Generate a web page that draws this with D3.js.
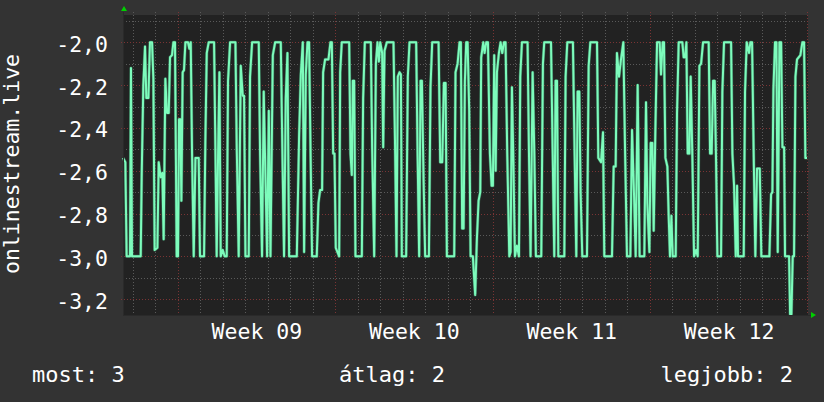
<!DOCTYPE html>
<html><head><meta charset="utf-8">
<script src="https://cdn.jsdelivr.net/npm/d3@7"></script>
<style>html,body{margin:0;padding:0;background:#333;} svg{display:block}</style>
</head><body><svg id="c" width="824" height="402"></svg>
<script>
// ---- data (hours since start, value) ----
const hours = [0,2.5,3.9,7.5,8.5,9.6,18.9,20,21.7,23.5,24.9,27.1,28.8,31,32.4,33.8,36.7,38.1,40.2,42,43.4,45.2,47,48.8,50.2,52.3,53.8,55.5,57.3,58.7,59.8,61.2,62.3,63.7,65.1,66.6,69.4,70.8,72.3,73.7,75.5,77.3,80.8,82.2,86.5,87.9,89.4,91.5,97.2,98.6,100,101.5,102.9,104.3,106.4,108.6,110.7,112.1,114.3,120,121.4,123.5,125.7,127.8,129.2,130.7,134.2,135.6,137.8,144.9,146.3,148.4,150.2,152,153.8,155.6,157.4,159.9,162.4,168.4,170.2,171.9,173.7,175.5,177.3,185.5,188,189.8,191.9,193.3,195.1,196.9,198.6,200.1,201.8,206.8,208.6,210.4,212.5,213.6,215.7,219.3,221.4,222.9,224.3,225.7,227.1,230.7,231.8,233.5,241.4,242.8,244.2,245.3,246.7,248.1,254.9,256.3,258.1,264.5,265.9,268.1,269.9,271.6,273.1,274.5,276.6,277.7,279.1,281.6,288.7,290.5,291.9,293.3,295.1,296.6,297.6,302.2,304,305.8,312.9,314.4,316.1,317.6,319,320.8,322.5,326.5,328.2,330,336.8,338.6,340.7,342.5,344.3,345.7,353.5,354.9,357.1,359.2,360.6,362,363.5,364.9,366.3,367.8,369.5,371,373.4,375.9,377.7,379.5,381.3,382.3,384.5,385.9,387.7,389.5,391.6,393.4,394.8,396.2,397.7,399.1,401.2,403,404.8,406.6,408.3,410.1,412.3,413.7,415.1,416.5,418.3,420.4,422.6,424,425.8,431.8,433.3,435,437.2,439,440.7,446.4,448.2,449.6,456.8,458.5,460.3,461.7,463.2,464.6,471,472.4,474.2,480.2,482,483.8,485.2,487,488.4,490.2,495.2,497,498.8,505.9,507.3,510.2,512.3,513.7,521.9,523.7,525.8,527.2,529.4,531.5,534,535.8,537.9,541.5,543.3,545.4,547.2,549.3,551.4,556.4,558.2,559.6,561.8,563.2,565,566.4,568.2,570,572.8,574.2,576,577.4,578.9,581,582.4,583.8,585.3,586.7,589.9,591.3,593.1,597,598.4,599.9,601.3,602.7,604.5,605.9,607.7,609.5,611.6,613.4,615.2,617,619.1,625.1,626.6,628.3,629.8,631.5,633,634.4,638.3,639.7,641.5,649,650.4,652.2,654,655.4,656.4,662.5,663.9,665.7,668.2,669.6,671.4,673.2,674.9,676.7,679.6,681.3,689.9,691.7,693.1,694.2,695.9,697.4,698.8,700.6,702.4,703.8,705.6,706.6,710.9,712,713.4,714.8,716.2,717.7,719.4,723,725.1,726.9,728.3,730.1];
const values = [-2.54,-2.56,-3,-3,-2.12,-3,-3,-2.61,-2.2,-2.02,-2.26,-2.26,-2,-2,-2.17,-2.97,-2.96,-2.56,-2.63,-2.61,-2.92,-2.17,-2.33,-2.33,-2.07,-2.06,-2,-2,-3,-3,-2.36,-2.36,-2.74,-2.14,-2.13,-2,-2,-2.03,-2,-2.52,-3,-2.54,-2.54,-3,-3,-2.46,-2.05,-2,-2,-2.49,-3,-2.52,-2.14,-3,-2.97,-3,-3,-2.18,-2,-2,-2.49,-3,-2.11,-2.25,-2.25,-3,-3,-2.16,-2,-2,-2.52,-3,-2.23,-2.62,-3,-2.32,-3,-2.06,-2,-2,-2.54,-3,-2.26,-2.05,-3,-3,-2.43,-2.15,-2,-2.98,-2.15,-2,-2,-2.49,-3,-3,-2.75,-2.69,-2.69,-2.14,-2.08,-2.08,-2,-2,-2.52,-2.52,-2.96,-3,-2.14,-2,-2,-2.52,-2.62,-2.18,-2.18,-3,-3,-2.26,-2,-2,-2.49,-3,-2.1,-2,-2.09,-2,-2.05,-2.49,-2.04,-2,-2,-2.52,-3,-2.16,-2.14,-2.15,-3,-3,-2.16,-2,-2,-2.52,-3,-2.18,-2.18,-2.64,-3,-3,-2.21,-2,-2,-2.56,-2.56,-2.19,-2.19,-3,-3,-2.14,-2.1,-2,-2,-2.87,-2.87,-2.18,-2,-2,-2.32,-3,-3,-3.18,-2.92,-2.74,-2.7,-2.07,-2,-2.05,-2,-2,-2.52,-2.67,-2.67,-2.06,-2.6,-2.14,-2.05,-2,-2.05,-2,-2,-2.52,-3,-2.98,-2.21,-2.52,-3,-2.95,-3,-2.16,-2,-2,-2.52,-3,-2.14,-2.52,-3,-3,-2.1,-2,-2,-2.49,-3,-2.18,-2.18,-3,-3,-2.16,-2,-2,-2.52,-3,-2.23,-2.23,-2.7,-3,-3,-2.11,-2,-2,-2.54,-2.56,-2.42,-3,-3,-2.58,-2.58,-2.05,-2.16,-2.08,-2,-2.49,-3,-3,-2.41,-2.71,-3,-2.2,-3,-3,-2.28,-2.75,-2.98,-2.47,-2.47,-2.88,-2.41,-2,-2,-2.15,-2,-2,-2.54,-2.58,-2.81,-3,-2.81,-3,-3,-2.33,-2,-2,-2.07,-2.07,-2,-2.52,-2.52,-2.16,-2.54,-3,-2.97,-3,-2.11,-2.1,-2,-2,-2.52,-2.52,-2.18,-2.18,-2.56,-3,-3,-2.23,-2,-2,-2.52,-2.67,-3,-2.67,-3,-3,-2.23,-2,-2.05,-2,-2,-2.54,-3,-2.59,-2.59,-3,-3,-2.71,-2.7,-2.22,-2,-2,-2.98,-2,-2,-2.49,-2.49,-3,-3,-3.27,-3.27,-3,-3,-2.16,-2.08,-2.06,-2,-2,-2.54,-2.54];
const yTickValues = [-3.2, -3.0, -2.8, -2.6, -2.4, -2.2, -2.0];
const yLabel = "onlinestream.live";
const weekLabelFormat = "Week %V";
const legendItems = ["most: 3", "átlag: 2", "legjobb: 2"];

// ---- layout ----
const P = {l: 123, r: 808, t: 15, b: 315};
const FONT = "'DejaVu Sans Mono', monospace";
const start = new Date(Date.UTC(2024, 1, 23, 13, 36));
const end = new Date(+start + 731.1 * 3600e3);

const x = d3.scaleUtc().domain([start, end]).range([P.l, P.r]);
const y = d3.scaleLinear().domain([-3.274, -1.8725]).range([P.b, P.t]);
const loc = d3.formatLocale({decimal: ",", thousands: ".", grouping: [3], currency: ["", ""], minus: "-"});
const fmt = loc.format(".1f");

const data = hours.map((h, i) => ({t: new Date(+start + h * 3600e3), v: values[i]}));

const svg = d3.select("#c");
svg.append("rect").attr("width", 824).attr("height", 402).attr("fill", "#333333");
svg.append("rect").attr("x", P.l).attr("y", P.t).attr("width", P.r - P.l).attr("height", P.b - P.t).attr("fill", "#222222");

// grid
const grid = svg.append("g");
const days = d3.utcDay.range(d3.utcDay.ceil(start), end);
const isMonday = d => d.getUTCDay() === 1;
const hVals = d3.range(-32, -18).map(k => k / 10);
grid.selectAll(".hm").data(hVals.filter(v => Math.round(v * 10) % 2 !== 0)).join("line")
  .attr("x1", P.l).attr("x2", P.r + 2).attr("y1", d => Math.round(y(d)) + 0.5).attr("y2", d => Math.round(y(d)) + 0.5)
  .attr("stroke", "#5a5a5a").attr("stroke-dasharray", "1,2");
grid.selectAll(".vm").data(days.filter(d => !isMonday(d))).join("line")
  .attr("x1", d => Math.round(x(d)) + 0.5).attr("x2", d => Math.round(x(d)) + 0.5).attr("y1", P.t - 3).attr("y2", P.b + 2)
  .attr("stroke", "#5a5a5a").attr("stroke-dasharray", "1,2");
grid.selectAll(".hM").data(yTickValues).join("line")
  .attr("x1", P.l - 2).attr("x2", P.r + 2).attr("y1", d => Math.round(y(d)) + 0.5).attr("y2", d => Math.round(y(d)) + 0.5)
  .attr("stroke", "#7a3434").attr("stroke-dasharray", "1,2");
grid.selectAll(".vM").data(days.filter(isMonday)).join("line")
  .attr("x1", d => Math.round(x(d)) + 0.5).attr("x2", d => Math.round(x(d)) + 0.5).attr("y1", P.t - 3).attr("y2", P.b + 3)
  .attr("stroke", "#7a3434").attr("stroke-dasharray", "1,2");

// series (soft halo + core)
const lineGen = d3.line().x(d => x(d.t)).y(d => y(d.v));
svg.append("path").datum(data).attr("d", lineGen)
  .attr("fill", "none").attr("stroke", "#3f8a66").attr("stroke-opacity", 0.7).attr("stroke-width", 3.2).attr("stroke-linejoin", "round");
svg.append("path").datum(data).attr("d", lineGen)
  .attr("fill", "none").attr("stroke", "#7dfcbc").attr("stroke-width", 2).attr("stroke-linejoin", "round");

// axes lines
svg.append("line").attr("x1", P.l + 0.5).attr("x2", P.l + 0.5).attr("y1", P.t - 3).attr("y2", P.b).attr("stroke", "#2a2a2a");
svg.append("line").attr("x1", P.l).attr("x2", P.r + 5).attr("y1", P.b + 0.5).attr("y2", P.b + 0.5).attr("stroke", "#2a2a2a");
// arrows
svg.append("path").attr("d", `M${P.l - 2},${P.t - 4}L${P.l + 4},${P.t - 4}L${P.l + 1},${P.t - 9}Z`).attr("fill", "#00d000");
svg.append("path").attr("d", `M${P.r + 3},${P.b - 3}L${P.r + 3},${P.b + 3}L${P.r + 8},${P.b}Z`).attr("fill", "#00d000");

// y axis labels
const yAxis = svg.append("g").attr("transform", `translate(${P.l},0)`)
  .call(d3.axisLeft(y).tickValues(yTickValues).tickFormat(fmt).tickSize(0).tickPadding(15));
yAxis.select(".domain").remove();
yAxis.selectAll("text").attr("fill", "#fff").attr("dy", "0.42em")
  .style("font-family", FONT).style("font-size", "21.5px");

// x axis week labels (centered within each week)
const mondays = d3.utcMonday.range(start, end).filter(m => +d3.utcDay.offset(m, 7) <= +end + 3600e3);
const mid = mondays.map(m => new Date(+m + 3.5 * 86400e3));
const xAxis = svg.append("g").attr("transform", `translate(0,${P.b})`)
  .call(d3.axisBottom(x).tickValues(mid).tickFormat(d3.utcFormat(weekLabelFormat)).tickSize(0));
xAxis.select(".domain").remove();
xAxis.selectAll("text").attr("fill", "#fff").attr("y", 24).attr("dy", 0)
  .style("font-family", FONT).style("font-size", "21.5px");

// y label
svg.append("text").attr("transform", "translate(19,164) rotate(-90)")
  .attr("text-anchor", "middle").attr("fill", "#fff")
  .style("font-family", FONT).style("font-size", "21.5px").text(yLabel);

// legend
const legX = [32, 339, 793], legA = ["start", "start", "end"];
svg.selectAll(".leg").data(legendItems).join("text")
  .attr("x", (d, i) => legX[i]).attr("y", 382).attr("text-anchor", (d, i) => legA[i])
  .attr("fill", "#fff").style("font-family", FONT).style("font-size", "22px").text(d => d);
</script>
</body></html>
